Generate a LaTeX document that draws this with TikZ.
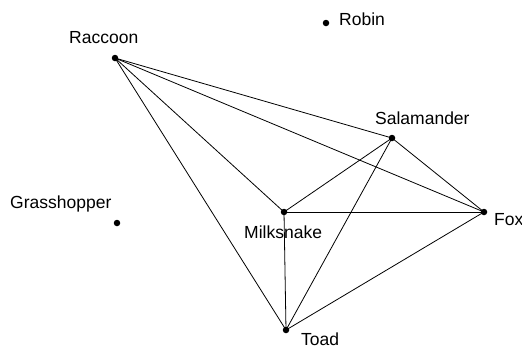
\documentclass[tikz,border=0pt]{standalone}
\usepackage{fontspec}
\setmainfont{Liberation Sans}
\begin{document}
\begin{tikzpicture}[x=1pt,y=-1pt,
  dot/.style={circle,fill=black,inner sep=0pt,minimum size=6.5pt},
  lbl/.style={anchor=base west,inner sep=0pt,font=\fontsize{17.5}{20}\selectfont},
  edge/.style={draw=black,line width=0.8pt}]
\useasboundingbox (0,0) rectangle (522,349);
\node[dot] (rac) at (115,58) {};
\node[dot] (rob) at (326,23) {};
\node[dot] (sal) at (392,138) {};
\node[dot] (gra) at (117,223) {};
\node[dot] (mil) at (284,212) {};
\node[dot] (fox) at (484,212) {};
\node[dot] (toa) at (286,330) {};
\node[lbl] (racL) at (69,43) {Raccoon};
\node[lbl] (robL) at (339,25) {Robin};
\node[lbl] (salL) at (375,124) {Salamander};
\node[lbl] (graL) at (10,208) {Grasshopper};
\node[lbl] (milL) at (244,238) {Milksnake};
\node[lbl] (foxL) at (494,225) {Fox};
\node[lbl] (toaL) at (301,345.5) {Toad};
\draw[edge] (rac.center) -- (sal.center);
\draw[edge] (rac.center) -- (fox.center);
\draw[edge] (rac.center) -- (mil.center);
\draw[edge] (rac.center) -- (toa.center);
\draw[edge] (sal.center) -- (mil.center);
\draw[edge] (sal.center) -- (toa.center);
\draw[edge] (sal.center) -- (fox.center);
\draw[edge] (mil.center) -- (fox.center);
\draw[edge] (mil.center) -- (toa.center);
\draw[edge] (toa.center) -- (fox.center);
\end{tikzpicture}
\end{document}
